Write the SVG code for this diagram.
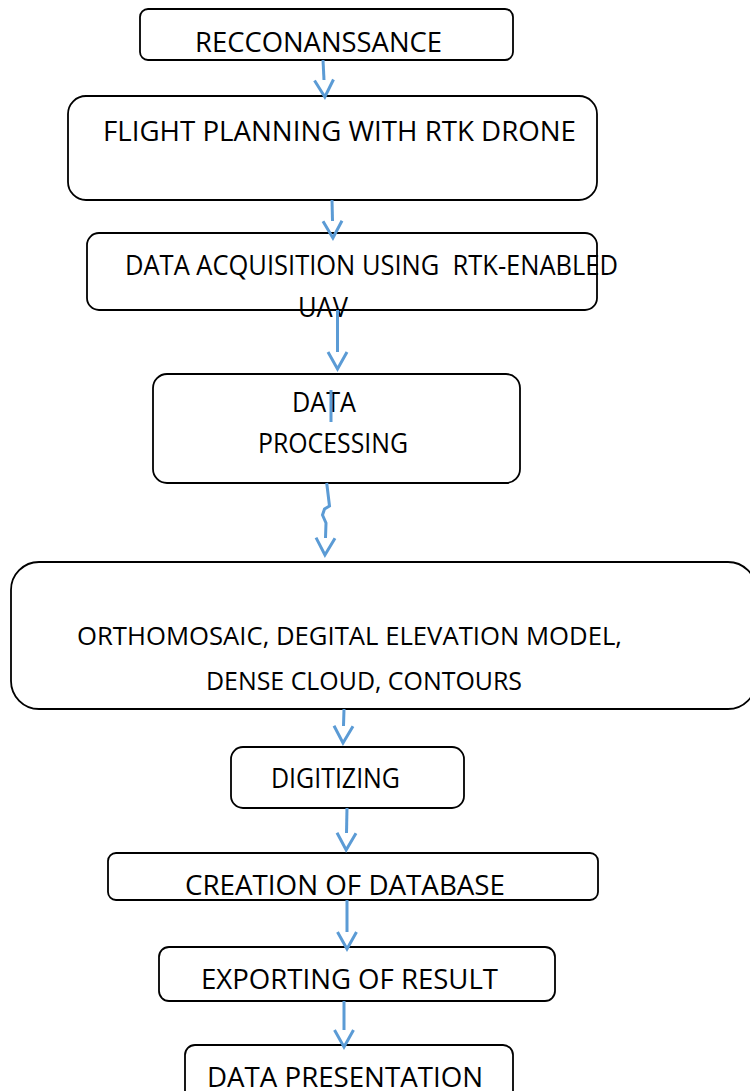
<svg xmlns="http://www.w3.org/2000/svg" width="750" height="1091" viewBox="0 0 750 1091">
<style>
.box{fill:#fff;stroke:#000;stroke-width:1.8}
.t{font-family:"Open Sans","Liberation Sans",sans-serif;font-size:28px;fill:#000}
.s{font-size:26px}
.c{fill:none;stroke:#5B9BD5;stroke-width:3}
</style>
<defs>
<marker id="v" markerUnits="userSpaceOnUse" orient="auto" markerWidth="24" markerHeight="24" viewBox="-2 -12 22 24" refX="0" refY="0" overflow="visible">
<path d="M0,-9.5 L17,0 L0,9.5" fill="none" stroke="#5B9BD5" stroke-width="3"/>
</marker>
</defs>
<rect width="750" height="1091" fill="#fff"/>
<g id="n1"><rect class="box" x="140" y="9" width="373" height="51" rx="8"/><text class="t" x="195" y="52" textLength="247" lengthAdjust="spacingAndGlyphs">RECCONANSSANCE</text></g>
<g id="n2"><rect class="box" x="68" y="96" width="529" height="104" rx="18"/><text class="t" x="103" y="141" textLength="473" lengthAdjust="spacingAndGlyphs">FLIGHT PLANNING WITH RTK DRONE</text></g>
<g id="n3"><rect class="box" x="87" y="233" width="510" height="77" rx="12"/><text class="t" x="125" y="275" textLength="493" lengthAdjust="spacingAndGlyphs" xml:space="preserve">DATA ACQUISITION USING  RTK-ENABLED</text><text class="t" x="298" y="317" textLength="50" lengthAdjust="spacingAndGlyphs">UAV</text></g>
<g id="n4"><rect class="box" x="153" y="374" width="367" height="109" rx="14"/><text class="t" x="292" y="412" textLength="64" lengthAdjust="spacingAndGlyphs">DATA</text><text class="t" x="258" y="453" textLength="150" lengthAdjust="spacingAndGlyphs">PROCESSING</text></g>
<g id="n5"><rect class="box" x="11" y="562" width="745" height="147" rx="28"/><text class="t s" x="77" y="645" textLength="545" lengthAdjust="spacingAndGlyphs">ORTHOMOSAIC, DEGITAL ELEVATION MODEL,</text><text class="t s" x="206" y="690" textLength="316" lengthAdjust="spacingAndGlyphs">DENSE CLOUD, CONTOURS</text></g>
<g id="n6"><rect class="box" x="231" y="747" width="233" height="61" rx="12"/><text class="t" x="271" y="788" textLength="129" lengthAdjust="spacingAndGlyphs">DIGITIZING</text></g>
<g id="n7"><rect class="box" x="108" y="853" width="490" height="47" rx="8"/><text class="t" x="185" y="895" textLength="320" lengthAdjust="spacingAndGlyphs">CREATION OF DATABASE</text></g>
<g id="n8"><rect class="box" x="159" y="947" width="396" height="54" rx="10"/><text class="t" x="201" y="989" textLength="297" lengthAdjust="spacingAndGlyphs">EXPORTING OF RESULT</text></g>
<g id="n9"><rect class="box" x="185" y="1045" width="328" height="60" rx="10"/><text class="t" x="207" y="1087" textLength="276" lengthAdjust="spacingAndGlyphs">DATA PRESENTATION</text></g>
<g id="connectors">
<path class="c" d="M323,60 L324,80" marker-end="url(#v)"/>
<path class="c" d="M332,200 L332.5,221" marker-end="url(#v)"/>
<path class="c" d="M337.5,310 L337.5,352" marker-end="url(#v)"/>
<path class="c" d="M331,390 L331,422"/>
<path class="c" d="M326.7,483 L329.5,506 L324.5,509 L322.5,515 L326,523 L325.5,538" marker-end="url(#v)"/>
<path class="c" d="M344,709 L343.5,726" marker-end="url(#v)"/>
<path class="c" d="M347,808 L346.5,833" marker-end="url(#v)"/>
<path class="c" d="M347,900 L347,932" marker-end="url(#v)"/>
<path class="c" d="M344,1001 L344,1030" marker-end="url(#v)"/>
</g>
</svg>
